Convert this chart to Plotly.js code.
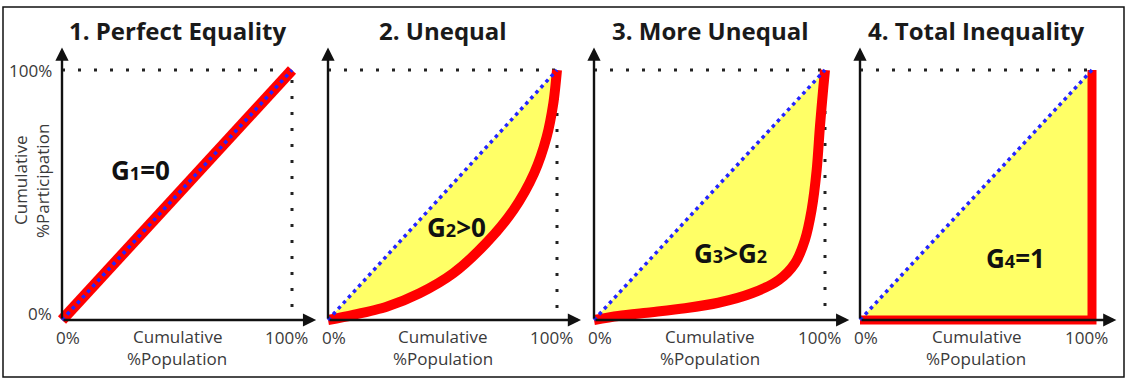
<!DOCTYPE html>
<html><head><meta charset="utf-8">
<script src="https://cdn.plot.ly/plotly-3.0.1.min.js"></script>
<style>html,body{margin:0;padding:0;background:#fff}#chart{width:1127px;height:382px}</style>
</head><body><div id="chart"></div>
<script>
// ---- data ----
const panelTitles = ['1. Perfect Equality', '2. Unequal', '3. More Unequal', '4. Total Inequality'];
const giniLabels = ['G<span style="font-size:18px">1</span>=0', 'G<span style="font-size:18px">2</span>>0',
  'G<span style="font-size:18px">3</span>>G<span style="font-size:18px">2</span>', 'G<span style="font-size:18px">4</span>=1'];
const giniX = [0.34, 0.563, 0.59, 0.67];
const giniY = [0.60, 0.372, 0.27, 0.25];
const equalityX = [0, 1];
const equalityY = [0, 1];
const perfectX = [0, 1];
const perfectY = [0, 1];
const unequalX = [0, 0.11, 0.256, 0.40, 0.547, 0.69, 0.81, 0.90, 0.955, 0.984, 1];
const unequalY = [0, 0.02, 0.053, 0.107, 0.187, 0.307, 0.44, 0.587, 0.733, 0.867, 1];
const moreUnequalX = [0, 0.105, 0.25, 0.394, 0.538, 0.683, 0.80, 0.87, 0.913, 0.942, 0.964, 0.978, 0.993, 1];
const moreUnequalY = [0, 0.016, 0.031, 0.047, 0.069, 0.107, 0.16, 0.227, 0.32, 0.44, 0.60, 0.773, 0.933, 1];
const totalX = [0, 1, 1];
const totalY = [0, 0, 1];
const xTickLabels = ['0%', '100%'];
const yTickLabels = ['0%', '100%'];
const xTitleLines = ['Cumulative', '%Population'];
const yTitleLines = ['Cumulative', '%Participation'];

// ---- layout ----
const W = 1127, H = 382;
const px0 = [62, 328, 594, 860];
const px1 = [292, 557, 825, 1092];
const XR = [-0.02, 1.12], YR = [-0.04, 1.12];
const yTopPx = 70, yBotPx = 320;
const curvesX = [perfectX, unequalX, moreUnequalX, totalX];
const curvesY = [perfectY, unequalY, moreUnequalY, totalY];
const curveWidth = [11, 10, 10, 9];
const curveShape = ['linear', 'spline', 'spline', 'linear'];

const traces = [];
const layout = {
  width: W, height: H, margin: {l: 0, r: 0, t: 0, b: 0},
  paper_bgcolor: '#fff', plot_bgcolor: 'rgba(0,0,0,0)', showlegend: false,
  font: {family: '"Open Sans", "Noto Sans", sans-serif', color: '#3a3a3a'},
  annotations: [], shapes: []
};
const ppu = (yBotPx - yTopPx);
const yDom = [(H - (yBotPx - YR[0] * ppu)) / H, (H - (yTopPx - (YR[1] - 1) * ppu)) / H];
const lblSize = 17;

for (let i = 0; i < 4; i++) {
  const s = i === 0 ? '' : String(i + 1);
  const xa = 'x' + s, ya = 'y' + s;
  const w = px1[i] - px0[i];
  const xd = [(px0[i] + XR[0] * w) / W, (px0[i] + XR[1] * w) / W];
  const axCommon = {showgrid: false, zeroline: false, showticklabels: false, showline: false, ticks: '', fixedrange: true};
  layout['xaxis' + s] = Object.assign({}, axCommon, {domain: xd, range: XR, anchor: ya});
  layout['yaxis' + s] = Object.assign({}, axCommon, {domain: yDom, range: YR, anchor: xa});

  const cx = curvesX[i], cy = curvesY[i];
  // dotted 100% guides
  traces.push({x: [0, 1, 1], y: [1, 1, 0], xaxis: xa, yaxis: ya, mode: 'lines',
    line: {color: '#222', width: 3, dash: '3px,13px'}, hoverinfo: 'skip'});
  // invisible line of equality as the upper edge of the fill
  traces.push({x: equalityX, y: equalityY, xaxis: xa, yaxis: ya, mode: 'lines',
    line: {width: 0, color: 'rgba(0,0,0,0)'}, hoverinfo: 'skip'});
  // Lorenz curve, filled up to the line of equality
  traces.push({x: cx, y: cy, xaxis: xa, yaxis: ya, mode: 'lines',
    fill: i > 0 ? 'tonexty' : 'none', fillcolor: '#ffff66',
    line: {color: '#ff0000', width: curveWidth[i], shape: curveShape[i], smoothing: 0.8}, hoverinfo: 'skip'});
  // line of equality (dotted)
  traces.push({x: equalityX, y: equalityY, xaxis: xa, yaxis: ya, mode: 'lines',
    line: {color: '#2424ff', width: 3.5, dash: '3.5px,4px'}, hoverinfo: 'skip'});

  layout.annotations.push({xref: xa, yref: ya, axref: xa, ayref: ya, x: 1.105, y: 0, ax: 0, ay: 0, text: '',
    showarrow: true, arrowhead: 2, arrowsize: 1.1, arrowwidth: 2.4, arrowcolor: '#111', standoff: 0, startstandoff: 0});
  layout.annotations.push({xref: xa, yref: ya, axref: xa, ayref: ya, x: 0, y: 1.09, ax: 0, ay: 0, text: '',
    showarrow: true, arrowhead: 2, arrowsize: 1.1, arrowwidth: 2.4, arrowcolor: '#111', standoff: 0, startstandoff: 0});

  layout.annotations.push({xref: 'paper', yref: 'paper', x: (px0[i] + px1[i]) / 2 / W, y: 1 - 30 / H,
    xanchor: 'center', yanchor: 'middle', showarrow: false, text: '<b>' + panelTitles[i] + '</b>',
    font: {size: 24, color: '#1a1a1a'}});
  layout.annotations.push({xref: xa, yref: ya, x: giniX[i], y: giniY[i], showarrow: false,
    text: '<b>' + giniLabels[i] + '</b>', font: {size: 26, color: '#111'}});
  layout.annotations.push({xref: xa, yref: ya, x: 0, y: 0, xshift: 6, yshift: -17, showarrow: false,
    text: xTickLabels[0], font: {size: lblSize}});
  layout.annotations.push({xref: xa, yref: ya, x: 1, y: 0, xshift: -6, yshift: -17, showarrow: false,
    text: xTickLabels[1], font: {size: lblSize}});
  layout.annotations.push({xref: xa, yref: ya, x: 0.5, y: 0, yshift: -16, showarrow: false,
    text: xTitleLines[0], font: {size: lblSize}});
  layout.annotations.push({xref: xa, yref: ya, x: 0.5, y: 0, yshift: -38, showarrow: false,
    text: xTitleLines[1], font: {size: lblSize}});
  if (i === 0) {
    layout.annotations.push({xref: xa, yref: ya, x: 0, y: 0, xanchor: 'right', xshift: -8, yshift: 7, showarrow: false,
      text: yTickLabels[0], font: {size: lblSize}});
    layout.annotations.push({xref: xa, yref: ya, x: 0, y: 1, xanchor: 'right', xshift: -8, showarrow: false,
      text: yTickLabels[1], font: {size: lblSize}});
    layout.annotations.push({xref: xa, yref: ya, x: 0, y: 0.556, xshift: -42, showarrow: false, textangle: -90,
      text: yTitleLines[0], font: {size: lblSize}});
    layout.annotations.push({xref: xa, yref: ya, x: 0, y: 0.556, xshift: -20, showarrow: false, textangle: -90,
      text: yTitleLines[1], font: {size: lblSize}});
  }
}
layout.shapes.push({type: 'rect', xref: 'paper', yref: 'paper', x0: 3 / W, x1: 1124 / W, y0: 1 - 377 / H, y1: 1 - 7 / H,
  line: {color: '#111', width: 1.5}});

Plotly.newPlot('chart', traces, layout, {displayModeBar: false, staticPlot: true});
</script></body></html>
